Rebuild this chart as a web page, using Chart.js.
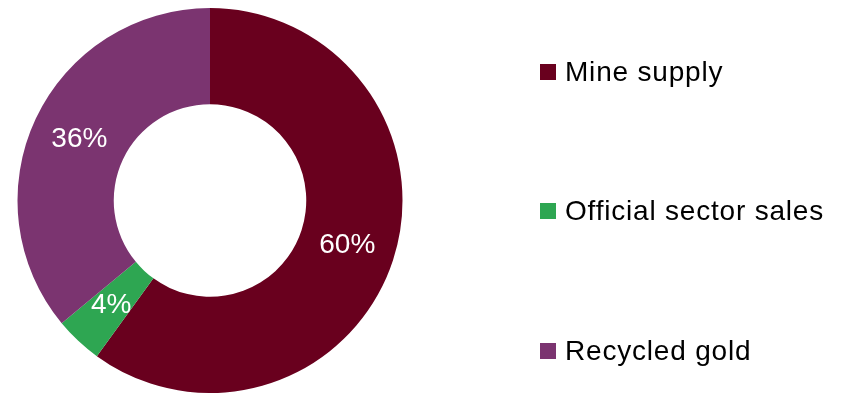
<!DOCTYPE html>
<html>
<head>
<meta charset="utf-8">
<script src="https://cdn.jsdelivr.net/npm/chart.js@4/dist/chart.umd.min.js"></script>
<style>
  html, body { margin: 0; padding: 0; background: #ffffff; }
  #wrap { position: relative; width: 844px; height: 393px; }
  #legend { position: absolute; left: 540px; top: 0; width: 304px; height: 393px;
            font-family: "Liberation Sans", Arial, sans-serif; font-size: 28px;
            letter-spacing: 0.8px; color: #000; }
  .item { position: absolute; left: 0; display: flex; align-items: center; height: 30px; white-space: nowrap; }
  .box { width: 16px; height: 16px; margin-right: 9px; flex: none; }
</style>
</head>
<body>
<div id="wrap">
  <canvas id="c" width="844" height="393"></canvas>
  <div id="legend"></div>
</div>
<script>
// Gold supply breakdown, share of total (%)
const categories = ['Mine supply', 'Official sector sales', 'Recycled gold'];
const shares = [60, 4, 36];
const colors = ['#69001E', '#2EA652', '#7B3470'];

// white percentage labels at each slice's mid point
const sliceLabels = {
  id: 'sliceLabels',
  afterDatasetsDraw(chart) {
    const ctx = chart.ctx;
    const meta = chart.getDatasetMeta(0);
    ctx.save();
    ctx.fillStyle = '#ffffff';
    ctx.font = '28px "Liberation Sans", Arial, sans-serif';
    ctx.textAlign = 'center';
    ctx.textBaseline = 'middle';
    meta.data.forEach((arc, i) => {
      const p = arc.tooltipPosition();
      ctx.fillText(shares[i] + '%', p.x, p.y);
    });
    ctx.restore();
  }
};

new Chart(document.getElementById('c'), {
  type: 'doughnut',
  data: {
    labels: categories,
    datasets: [{
      data: shares,
      backgroundColor: colors,
      borderWidth: 0
    }]
  },
  options: {
    responsive: false,
    animation: false,
    cutout: '50%',
    layout: { padding: { top: 8, bottom: 0, left: 17, right: 441 } },
    plugins: {
      legend: { display: false },
      tooltip: { enabled: false }
    }
  },
  plugins: [sliceLabels]
});

// legend on the right
const legendTops = [57, 196, 336];
const legend = document.getElementById('legend');
categories.forEach((name, i) => {
  const item = document.createElement('div');
  item.className = 'item';
  item.style.top = legendTops[i] + 'px';
  const box = document.createElement('span');
  box.className = 'box';
  box.style.background = colors[i];
  const txt = document.createElement('span');
  txt.textContent = name;
  item.appendChild(box);
  item.appendChild(txt);
  legend.appendChild(item);
});
</script>
</body>
</html>
